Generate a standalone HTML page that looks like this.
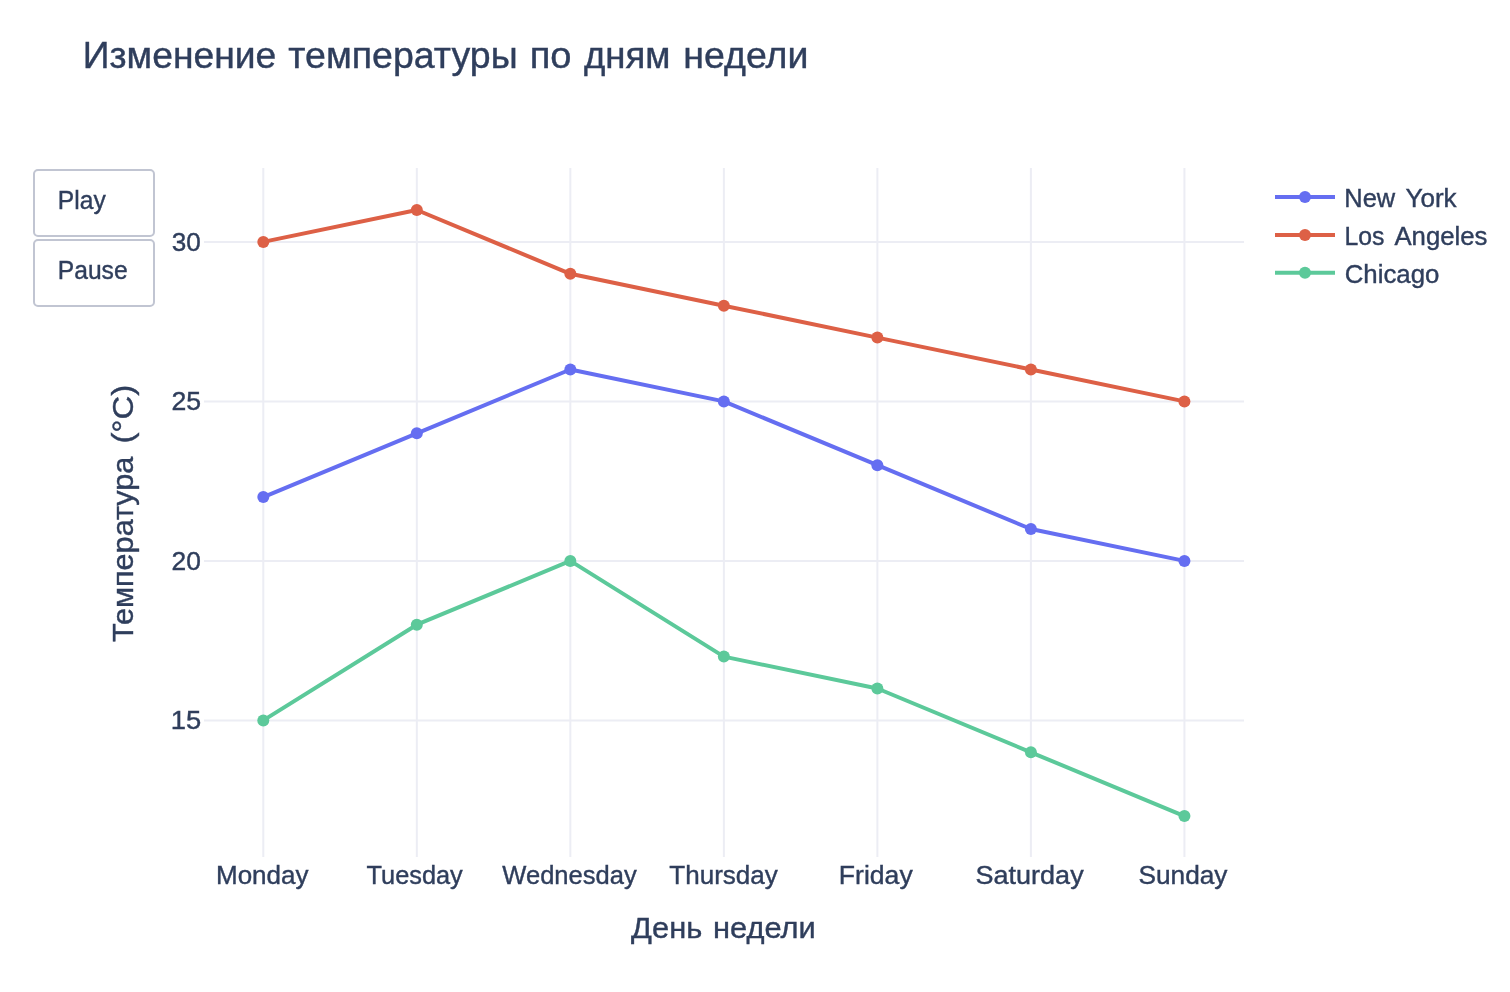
<!DOCTYPE html>
<html><head><meta charset="utf-8"><title>Изменение температуры по дням недели</title>
<style>html,body{margin:0;padding:0;background:#fff;overflow:hidden}svg{display:block;will-change:transform}</style></head>
<body><svg width="1510" height="992" viewBox="0 0 1510 992">
<rect width="1510" height="992" fill="#ffffff"/>
<line x1="263.30" y1="168" x2="263.30" y2="857" stroke="#ecedf4" stroke-width="2"/>
<line x1="416.82" y1="168" x2="416.82" y2="857" stroke="#ecedf4" stroke-width="2"/>
<line x1="570.34" y1="168" x2="570.34" y2="857" stroke="#ecedf4" stroke-width="2"/>
<line x1="723.86" y1="168" x2="723.86" y2="857" stroke="#ecedf4" stroke-width="2"/>
<line x1="877.38" y1="168" x2="877.38" y2="857" stroke="#ecedf4" stroke-width="2"/>
<line x1="1030.90" y1="168" x2="1030.90" y2="857" stroke="#ecedf4" stroke-width="2"/>
<line x1="1184.42" y1="168" x2="1184.42" y2="857" stroke="#ecedf4" stroke-width="2"/>
<line x1="204" y1="720.40" x2="1244" y2="720.40" stroke="#ecedf4" stroke-width="2"/>
<line x1="204" y1="560.90" x2="1244" y2="560.90" stroke="#ecedf4" stroke-width="2"/>
<line x1="204" y1="401.40" x2="1244" y2="401.40" stroke="#ecedf4" stroke-width="2"/>
<line x1="204" y1="241.90" x2="1244" y2="241.90" stroke="#ecedf4" stroke-width="2"/>
<polyline points="263.30,497.10 416.82,433.30 570.34,369.50 723.86,401.40 877.38,465.20 1030.90,529.00 1184.42,560.90" fill="none" stroke="#656ef1" stroke-width="4" stroke-linejoin="round"/>
<circle cx="263.30" cy="497.10" r="6" fill="#656ef1"/>
<circle cx="416.82" cy="433.30" r="6" fill="#656ef1"/>
<circle cx="570.34" cy="369.50" r="6" fill="#656ef1"/>
<circle cx="723.86" cy="401.40" r="6" fill="#656ef1"/>
<circle cx="877.38" cy="465.20" r="6" fill="#656ef1"/>
<circle cx="1030.90" cy="529.00" r="6" fill="#656ef1"/>
<circle cx="1184.42" cy="560.90" r="6" fill="#656ef1"/>
<polyline points="263.30,241.90 416.82,210.00 570.34,273.80 723.86,305.70 877.38,337.60 1030.90,369.50 1184.42,401.40" fill="none" stroke="#dd6046" stroke-width="4" stroke-linejoin="round"/>
<circle cx="263.30" cy="241.90" r="6" fill="#dd6046"/>
<circle cx="416.82" cy="210.00" r="6" fill="#dd6046"/>
<circle cx="570.34" cy="273.80" r="6" fill="#dd6046"/>
<circle cx="723.86" cy="305.70" r="6" fill="#dd6046"/>
<circle cx="877.38" cy="337.60" r="6" fill="#dd6046"/>
<circle cx="1030.90" cy="369.50" r="6" fill="#dd6046"/>
<circle cx="1184.42" cy="401.40" r="6" fill="#dd6046"/>
<polyline points="263.30,720.40 416.82,624.70 570.34,560.90 723.86,656.60 877.38,688.50 1030.90,752.30 1184.42,816.10" fill="none" stroke="#5cc99a" stroke-width="4" stroke-linejoin="round"/>
<circle cx="263.30" cy="720.40" r="6" fill="#5cc99a"/>
<circle cx="416.82" cy="624.70" r="6" fill="#5cc99a"/>
<circle cx="570.34" cy="560.90" r="6" fill="#5cc99a"/>
<circle cx="723.86" cy="656.60" r="6" fill="#5cc99a"/>
<circle cx="877.38" cy="688.50" r="6" fill="#5cc99a"/>
<circle cx="1030.90" cy="752.30" r="6" fill="#5cc99a"/>
<circle cx="1184.42" cy="816.10" r="6" fill="#5cc99a"/>
<rect x="34" y="170" width="120" height="66" rx="4" fill="#ffffff" stroke="#c1c5d2" stroke-width="2"/>
<rect x="34" y="240" width="120" height="66" rx="4" fill="#ffffff" stroke="#c1c5d2" stroke-width="2"/>
<line x1="1275" y1="196.9" x2="1335" y2="196.9" stroke="#656ef1" stroke-width="4"/>
<circle cx="1305" cy="196.9" r="6" fill="#656ef1"/>
<line x1="1275" y1="234.9" x2="1335" y2="234.9" stroke="#dd6046" stroke-width="4"/>
<circle cx="1305" cy="234.9" r="6" fill="#dd6046"/>
<line x1="1275" y1="272.8" x2="1335" y2="272.8" stroke="#5cc99a" stroke-width="4"/>
<circle cx="1305" cy="272.8" r="6" fill="#5cc99a"/>
<g font-family="Liberation Sans, sans-serif" fill="#2f3e5c" stroke="#2f3e5c" stroke-width="0.4">
<text transform="translate(82.79 67.80) scale(1.0205 1)" font-size="36.5">Изменение</text>
<text transform="translate(288.29 67.80) scale(1.0284 1)" font-size="36.5">температуры</text>
<text transform="translate(529.65 67.80) scale(1.0438 1)" font-size="36.5">по</text>
<text transform="translate(583.95 67.80) scale(1.0018 1)" font-size="36.5">дням</text>
<text transform="translate(683.29 67.80) scale(1.0282 1)" font-size="36.5">недели</text>
<text transform="translate(57.79 208.90) scale(0.9546 1)" font-size="25.8">Play</text>
<text transform="translate(57.79 278.80) scale(0.9552 1)" font-size="25.8">Pause</text>
<text transform="translate(1344.33 207.00) scale(0.9860 1)" font-size="25.8">New</text>
<text transform="translate(1405.45 207.00) scale(1.0108 1)" font-size="25.8">York</text>
<text transform="translate(1344.38 245.10) scale(0.9600 1)" font-size="25.8">Los</text>
<text transform="translate(1394.45 245.10) scale(0.9973 1)" font-size="25.8">Angeles</text>
<text transform="translate(1344.70 282.80) scale(1.0005 1)" font-size="25.8">Chicago</text>
<text transform="translate(631.10 937.90) scale(1.0286 1)" font-size="30.0">День</text>
<text transform="translate(713.04 937.90) scale(1.0275 1)" font-size="30.0">недели</text>
<text transform="translate(171.84 250.80) scale(1.0128 1)" font-size="25.8">30</text>
<text transform="translate(171.57 410.30) scale(1.0318 1)" font-size="25.8">25</text>
<text transform="translate(171.58 569.80) scale(1.0222 1)" font-size="25.8">20</text>
<text transform="translate(170.74 729.30) scale(1.0615 1)" font-size="25.8">15</text>
<text transform="translate(215.98 883.60) scale(1.0078 1)" font-size="25.8">Monday</text>
<text transform="translate(366.51 883.60) scale(0.9821 1)" font-size="25.8">Tuesday</text>
<text transform="translate(502.30 883.60) scale(0.9904 1)" font-size="25.8">Wednesday</text>
<text transform="translate(669.30 883.60) scale(1.0098 1)" font-size="25.8">Thursday</text>
<text transform="translate(838.84 883.60) scale(1.0308 1)" font-size="25.8">Friday</text>
<text transform="translate(975.55 883.60) scale(1.0468 1)" font-size="25.8">Saturday</text>
<text transform="translate(1138.48 883.60) scale(1.0179 1)" font-size="25.8">Sunday</text>
<text transform="translate(133.10 642.01) rotate(-90) scale(1.0204 1)" font-size="30.0">Температура</text>
<text transform="translate(133.10 443.62) rotate(-90) scale(1.0945 1)" font-size="30.0">(°C)</text>
</g>
</svg></body></html>
